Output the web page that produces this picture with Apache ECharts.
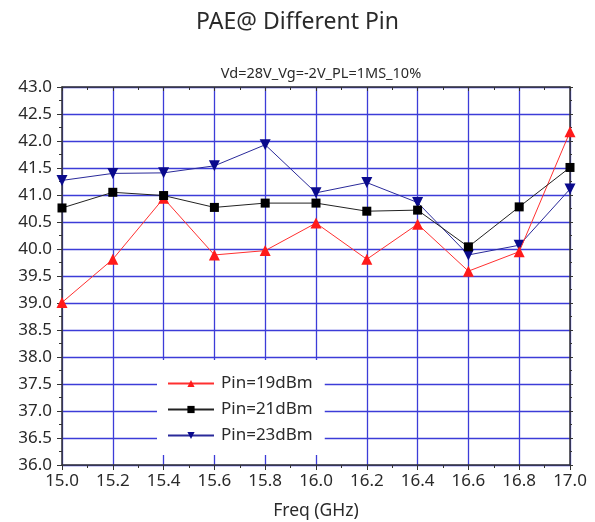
<!DOCTYPE html>
<html>
<head>
<meta charset="utf-8">
<script src="https://cdn.jsdelivr.net/npm/echarts@6/dist/echarts.min.js"></script>
<style>html,body{margin:0;padding:0;background:#fff}#c{width:595px;height:522px}</style>
</head>
<body>
<div id="c"></div>
<script>
const freqs = [15.0, 15.2, 15.4, 15.6, 15.8, 16.0, 16.2, 16.4, 16.6, 16.8, 17.0];
const pin19 = [39.01, 39.81, 40.94, 39.89, 39.97, 40.48, 39.81, 40.46, 39.59, 39.95, 42.17];
const pin21 = [40.76, 41.05, 40.99, 40.77, 40.85, 40.85, 40.70, 40.72, 40.04, 40.78, 41.51];
const pin23 = [41.27, 41.40, 41.41, 41.54, 41.93, 41.04, 41.23, 40.86, 39.89, 40.07, 41.11];
const seriesNames = ['Pin=19dBm', 'Pin=21dBm', 'Pin=23dBm'];
const titleText = 'PAE@ Different Pin';
const subtitleText = 'Vd=28V_Vg=-2V_PL=1MS_10%';
const xName = 'Freq (GHz)';

const FONT = '"Noto Sans", "Open Sans", sans-serif';
const gridBlue = '#3c3cd8';
const axisCol = '#333';
const textCol = '#2a2a2a';

const chart = echarts.init(document.getElementById('c'), null, {renderer: 'canvas'});
const pair = arr => freqs.map((f, i) => [f, arr[i]]);

chart.setOption({
  animation: false,
  backgroundColor: '#fff',
  title: [
    {text: titleText, left: 'center', top: 6, textStyle: {fontFamily: FONT, fontSize: 23, fontWeight: 'normal', color: textCol}},
    {text: subtitleText, left: 316, textAlign: 'center', top: 61, textStyle: {fontFamily: FONT, fontSize: 14.5, fontWeight: 'normal', color: textCol}}
  ],
  grid: {left: 62, right: 25, top: 87, bottom: 57, containLabel: false, outerBoundsMode: 'none'},
  legend: {
    orient: 'vertical', left: 157, top: 360,
    backgroundColor: '#fff',
    padding: [15, 12, 11, 10],
    itemWidth: 46, itemHeight: 9, itemGap: 9,
    textStyle: {fontFamily: FONT, fontSize: 17, lineHeight: 17, color: textCol, padding: [0, 0, 0, 2]},
    data: seriesNames
  },
  xAxis: [{
    type: 'value', min: 15, max: 17, interval: 0.2,
    name: xName, nameLocation: 'middle', nameGap: 37,
    nameTextStyle: {fontFamily: FONT, fontSize: 17.5, color: textCol},
    axisLine: {show: true, lineStyle: {color: axisCol, width: 1.5}},
    axisTick: {show: true, inside: false, length: 5, lineStyle: {color: axisCol}},
    minorTick: {show: true, splitNumber: 2, length: 3, lineStyle: {color: axisCol}},
    axisLabel: {fontFamily: FONT, fontSize: 17, color: textCol, margin: 8, formatter: v => v.toFixed(1)},
    splitLine: {show: true, lineStyle: {color: gridBlue, width: 1.3}}
  }, {
    type: 'value', min: 15, max: 17, interval: 0.2, position: 'top',
    axisLine: {show: true, lineStyle: {color: axisCol, width: 1.5}},
    axisTick: {show: true, inside: true, length: 4, lineStyle: {color: axisCol}},
    minorTick: {show: true, splitNumber: 2, length: 3, lineStyle: {color: axisCol}},
    axisLabel: {show: false}, splitLine: {show: false}
  }],
  yAxis: [{
    type: 'value', min: 36, max: 43, interval: 0.5,
    axisLine: {show: true, lineStyle: {color: axisCol, width: 1.5}},
    axisTick: {show: true, inside: false, length: 5, lineStyle: {color: axisCol}},
    minorTick: {show: true, splitNumber: 2, length: 3, lineStyle: {color: axisCol}},
    axisLabel: {fontFamily: FONT, fontSize: 17, color: textCol, margin: 10, formatter: v => v.toFixed(1)},
    splitLine: {show: true, lineStyle: {color: gridBlue, width: 1.3}}
  }, {
    type: 'value', min: 36, max: 43, interval: 0.5, position: 'right',
    axisLine: {show: true, lineStyle: {color: axisCol, width: 1.5}},
    axisTick: {show: true, inside: false, length: 3, lineStyle: {color: axisCol}},
    minorTick: {show: true, splitNumber: 2, length: 2, lineStyle: {color: axisCol}},
    axisLabel: {show: false}, splitLine: {show: false}
  }],
  series: [
    {name: seriesNames[0], type: 'line', data: pair(pin19), symbol: 'triangle', symbolSize: 11,
     itemStyle: {color: '#ff1a1a'}, lineStyle: {color: '#ff3030', width: 1}, z: 3},
    {name: seriesNames[1], type: 'line', data: pair(pin21), symbol: 'rect', symbolSize: 9,
     itemStyle: {color: '#000'}, lineStyle: {color: '#222', width: 1}, z: 4},
    {name: seriesNames[2], type: 'line', data: pair(pin23), symbol: 'triangle', symbolRotate: 180, symbolSize: 11,
     itemStyle: {color: '#0a0a8c'}, lineStyle: {color: '#2a2a9a', width: 1}, z: 2}
  ]
});
</script>
</body>
</html>
